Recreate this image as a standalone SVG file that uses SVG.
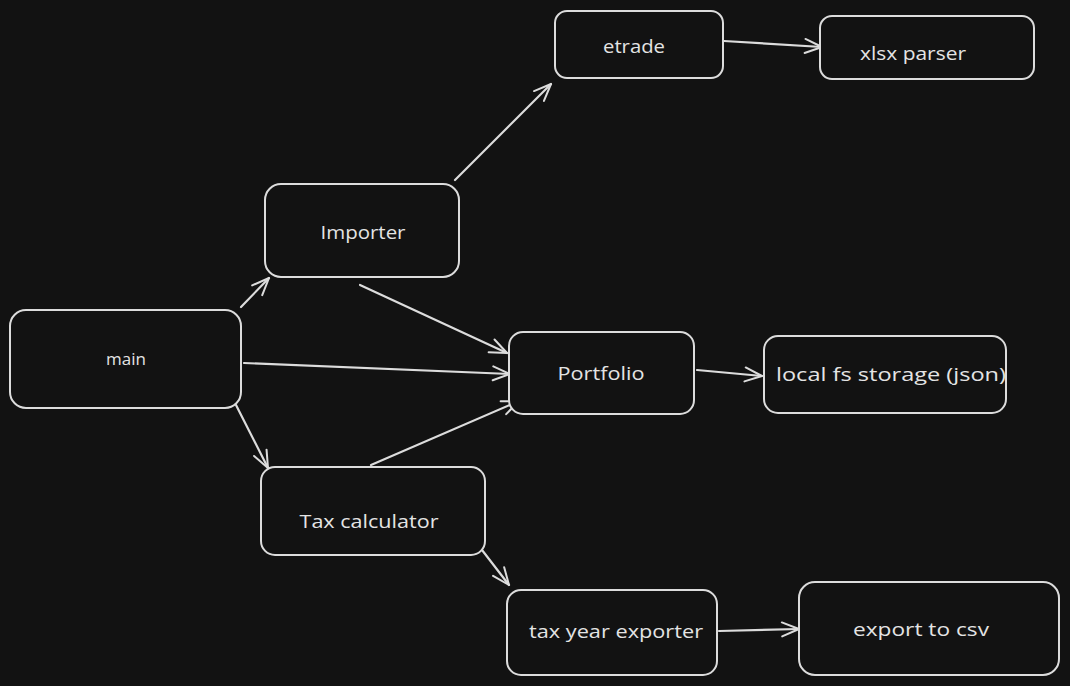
<svg xmlns="http://www.w3.org/2000/svg" width="1070" height="686" viewBox="0 0 1070 686">
<defs>
<style>
.box{fill:#121212;stroke:#dcdcdc;stroke-width:2}
.lbl{fill:#e4e4e4;font-family:"Open Sans","Liberation Sans",sans-serif;font-size:19px;text-anchor:middle;dominant-baseline:central}
.edge{fill:none;stroke:#dcdcdc;stroke-width:2.2;stroke-linecap:round}
</style>
<marker id="ah" viewBox="-19 -9 21 18" refX="0" refY="0" markerWidth="21" markerHeight="18" markerUnits="userSpaceOnUse" orient="auto">
<path d="M-17,-7 L0,0 L-17,7" fill="none" stroke="#dcdcdc" stroke-width="2" stroke-linecap="round" stroke-linejoin="round"/>
</marker>
</defs>
<rect width="1070" height="686" fill="#121212"/>
<g id="connectors">
<path class="edge" marker-end="url(#ah)" d="M241,307 L269,278"/>
<path class="edge" marker-end="url(#ah)" d="M455,180 L551,84"/>
<path class="edge" marker-end="url(#ah)" d="M724,41 L822,47"/>
<path class="edge" marker-end="url(#ah)" d="M360,285 L507,353"/>
<path class="edge" marker-end="url(#ah)" d="M244,363 L510,374"/>
<path class="edge" marker-end="url(#ah)" d="M371,465 L519,401"/>
<path class="edge" marker-end="url(#ah)" d="M236,405 L268,468"/>
<path class="edge" marker-end="url(#ah)" d="M482,550 L509,585"/>
<path class="edge" marker-end="url(#ah)" d="M697,370 L762,376"/>
<path class="edge" marker-end="url(#ah)" d="M719,631 L799,629"/>
</g>
<g id="etrade"><rect class="box" x="555" y="11" width="168" height="67" rx="12"/><text class="lbl" x="634" y="46" textLength="62" lengthAdjust="spacingAndGlyphs">etrade</text></g>
<g id="xlsx-parser"><rect class="box" x="820" y="16" width="214" height="63" rx="12"/><text class="lbl" x="913" y="53" textLength="106" lengthAdjust="spacingAndGlyphs">xlsx parser</text></g>
<g id="importer"><rect class="box" x="265" y="184" width="194" height="93" rx="16"/><text class="lbl" x="363" y="232" textLength="85" lengthAdjust="spacingAndGlyphs">Importer</text></g>
<g id="main"><rect class="box" x="10" y="310" width="231" height="98" rx="16"/><text class="lbl" x="126" y="358" style="font-size:17px">main</text></g>
<g id="portfolio"><rect class="box" x="509" y="332" width="185" height="82" rx="14"/><text class="lbl" x="601" y="373" textLength="87" lengthAdjust="spacingAndGlyphs">Portfolio</text></g>
<g id="local-fs-storage"><rect class="box" x="764" y="336" width="242" height="77" rx="14"/><text class="lbl" x="891" y="374" textLength="230" lengthAdjust="spacingAndGlyphs">local fs storage (json)</text></g>
<g id="tax-calculator"><rect class="box" x="261" y="467" width="224" height="88" rx="14"/><text class="lbl" x="369" y="521" textLength="139" lengthAdjust="spacingAndGlyphs">Tax calculator</text></g>
<g id="tax-year-exporter"><rect class="box" x="507" y="590" width="210" height="85" rx="14"/><text class="lbl" x="616" y="631" textLength="174" lengthAdjust="spacingAndGlyphs">tax year exporter</text></g>
<g id="export-to-csv"><rect class="box" x="799" y="582" width="260" height="93" rx="16"/><text class="lbl" x="921" y="629" textLength="136" lengthAdjust="spacingAndGlyphs">export to csv</text></g>
</svg>
